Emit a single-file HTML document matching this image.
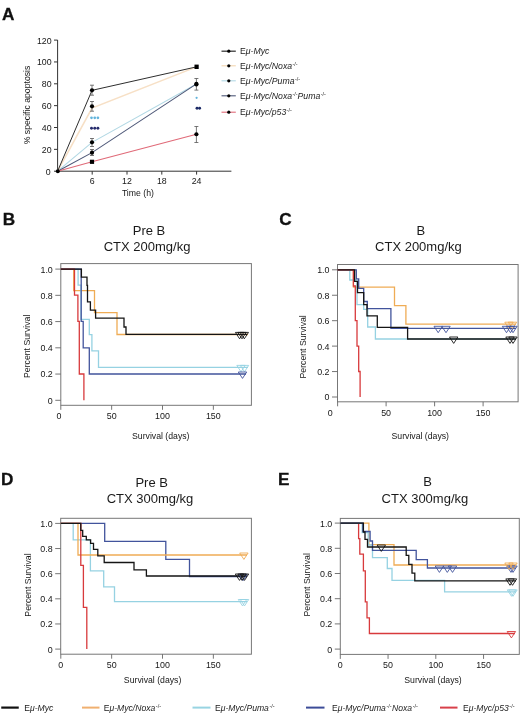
<!DOCTYPE html>
<html><head><meta charset="utf-8"><style>
html,body{margin:0;padding:0;background:#fff;}
body{width:520px;height:713px;overflow:hidden;}
svg{display:block;font-family:"Liberation Sans",sans-serif;filter:blur(0.3px);}
</style></head><body>
<svg width="520" height="713" viewBox="0 0 520 713">
<rect width="520" height="713" fill="#fff"/>
<text x="2.0" y="20.3" font-size="17.2" text-anchor="start" font-weight="bold" font-style="normal" fill="#111" stroke="#111" stroke-width="0.3">A</text>
<text x="2.7" y="225.2" font-size="17.2" text-anchor="start" font-weight="bold" font-style="normal" fill="#111" stroke="#111" stroke-width="0.3">B</text>
<text x="279.2" y="225.4" font-size="17.2" text-anchor="start" font-weight="bold" font-style="normal" fill="#111" stroke="#111" stroke-width="0.3">C</text>
<text x="1.0" y="484.6" font-size="17.2" text-anchor="start" font-weight="bold" font-style="normal" fill="#111" stroke="#111" stroke-width="0.3">D</text>
<text x="278.0" y="484.6" font-size="17.2" text-anchor="start" font-weight="bold" font-style="normal" fill="#111" stroke="#111" stroke-width="0.3">E</text>
<path d="M57.6 40 V171.2 H231.4" fill="none" stroke="#333" stroke-width="1"/>
<path d="M54 171.20 H57.6" stroke="#333" stroke-width="1"/>
<text x="50.6" y="174.6" font-size="8.8" text-anchor="end" font-weight="normal" font-style="normal" fill="#161616">0</text>
<path d="M54 149.35 H57.6" stroke="#333" stroke-width="1"/>
<text x="51.6" y="152.75" font-size="8.8" text-anchor="end" font-weight="normal" font-style="normal" fill="#161616">20</text>
<path d="M54 127.50 H57.6" stroke="#333" stroke-width="1"/>
<text x="51.6" y="130.89999999999998" font-size="8.8" text-anchor="end" font-weight="normal" font-style="normal" fill="#161616">40</text>
<path d="M54 105.65 H57.6" stroke="#333" stroke-width="1"/>
<text x="51.6" y="109.05" font-size="8.8" text-anchor="end" font-weight="normal" font-style="normal" fill="#161616">60</text>
<path d="M54 83.80 H57.6" stroke="#333" stroke-width="1"/>
<text x="51.6" y="87.19999999999999" font-size="8.8" text-anchor="end" font-weight="normal" font-style="normal" fill="#161616">80</text>
<path d="M54 61.95 H57.6" stroke="#333" stroke-width="1"/>
<text x="51.6" y="65.35" font-size="8.8" text-anchor="end" font-weight="normal" font-style="normal" fill="#161616">100</text>
<path d="M54 40.10 H57.6" stroke="#333" stroke-width="1"/>
<text x="51.6" y="43.49999999999999" font-size="8.8" text-anchor="end" font-weight="normal" font-style="normal" fill="#161616">120</text>
<path d="M92.20 171.2 V174.6" stroke="#333" stroke-width="1"/>
<text x="92.19999999999999" y="183.9" font-size="8.8" text-anchor="middle" font-weight="normal" font-style="normal" fill="#161616">6</text>
<path d="M127.00 171.2 V174.6" stroke="#333" stroke-width="1"/>
<text x="127.0" y="183.9" font-size="8.8" text-anchor="middle" font-weight="normal" font-style="normal" fill="#161616">12</text>
<path d="M161.80 171.2 V174.6" stroke="#333" stroke-width="1"/>
<text x="161.79999999999998" y="183.9" font-size="8.8" text-anchor="middle" font-weight="normal" font-style="normal" fill="#161616">18</text>
<path d="M196.60 171.2 V174.6" stroke="#333" stroke-width="1"/>
<text x="196.6" y="183.9" font-size="8.8" text-anchor="middle" font-weight="normal" font-style="normal" fill="#161616">24</text>
<text x="137.9" y="195.5" font-size="8.7" text-anchor="middle" font-weight="normal" font-style="normal" fill="#161616">Time (h)</text>
<text x="30.4" y="105" font-size="8.7" text-anchor="middle" font-weight="normal" font-style="normal" fill="#161616" transform="rotate(-90 30.4 105)">% specific apoptosis</text>
<polyline points="57.6,171.2 92.0,142.36 196.5,83.91" fill="none" stroke="#b2d8e4" stroke-width="1.1"/>
<polyline points="57.6,171.2 92.0,152.63 196.5,83.91" fill="none" stroke="#4e5878" stroke-width="1.1"/>
<polyline points="57.6,171.2 92.0,161.80 196.5,134.27" fill="none" stroke="#e06a78" stroke-width="1.1"/>
<polyline points="57.6,171.2 92.0,108.05 196.5,66.87" fill="none" stroke="#f7e0c6" stroke-width="1.6"/>
<polyline points="57.6,171.2 92.0,90.35 196.5,66.87" fill="none" stroke="#2e2e2e" stroke-width="1.0"/>
<circle cx="57.8" cy="171.2" r="2.0" fill="#000"/>
<path d="M92 85.2 V95.2 M90 85.2 H94 M90 95.2 H94" stroke="#555" stroke-width="0.8" fill="none"/>
<path d="M92 101.5 V111.2 M90 101.5 H94 M90 111.2 H94" stroke="#555" stroke-width="0.8" fill="none"/>
<path d="M92 138.5 V146.5 M90 138.5 H94 M90 146.5 H94" stroke="#555" stroke-width="0.8" fill="none"/>
<path d="M92 149.5 V155.5 M90 149.5 H94 M90 155.5 H94" stroke="#555" stroke-width="0.8" fill="none"/>
<path d="M196.4 78.5 V90.1 M194.4 78.5 H198.4 M194.4 90.1 H198.4" stroke="#555" stroke-width="0.8" fill="none"/>
<path d="M196.4 126.5 V142.5 M194.4 126.5 H198.4 M194.4 142.5 H198.4" stroke="#555" stroke-width="0.8" fill="none"/>
<circle cx="92" cy="90.35" r="2.1" fill="#000"/>
<circle cx="92" cy="106.31" r="2.1" fill="#000"/>
<circle cx="92" cy="142.36" r="2.1" fill="#000"/>
<circle cx="92" cy="152.63" r="2.1" fill="#000"/>
<circle cx="196.4" cy="83.91" r="2.1" fill="#000"/>
<circle cx="196.4" cy="134.27" r="2.1" fill="#000"/>
<rect x="89.9" y="159.70" width="4.2" height="4.2" fill="#000"/>
<rect x="194.5" y="64.6" width="4.2" height="4.4" fill="#000"/>
<circle cx="196.4" cy="84.51" r="2.1" fill="#000"/>
<circle cx="91.5" cy="117.8" r="1.35" fill="#62b4dc"/>
<circle cx="91.5" cy="128.3" r="1.45" fill="#262c6c"/>
<circle cx="94.75" cy="117.8" r="1.35" fill="#62b4dc"/>
<circle cx="94.75" cy="128.3" r="1.45" fill="#262c6c"/>
<circle cx="97.9" cy="117.8" r="1.35" fill="#62b4dc"/>
<circle cx="97.9" cy="128.3" r="1.45" fill="#262c6c"/>
<circle cx="196.6" cy="97.8" r="1.1" fill="#62b4dc"/>
<circle cx="197.0" cy="108.2" r="1.45" fill="#1c2a66"/>
<circle cx="199.6" cy="108.2" r="1.45" fill="#1c2a66"/>
<path d="M221.5 51.2 H235.8" stroke="#3a3a3a" stroke-width="1.3"/>
<circle cx="228.8" cy="51.2" r="1.6" fill="#000"/>
<text x="240" y="54.400000000000006" font-size="8.7" text-anchor="start" font-weight="normal" font-style="normal" fill="#222">E<tspan font-style="italic">μ-Myc</tspan></text>
<path d="M221.5 65.8 H235.8" stroke="#f3d6b0" stroke-width="1.1"/>
<circle cx="228.8" cy="65.8" r="1.6" fill="#000"/>
<text x="240" y="69.0" font-size="8.7" text-anchor="start" font-weight="normal" font-style="normal" fill="#222">E<tspan font-style="italic">μ-Myc/Noxa</tspan><tspan font-size="5.4" dx="0.4" dy="-3.2">-/-</tspan></text>
<path d="M221.5 80.8 H235.8" stroke="#b2d8e4" stroke-width="1.1"/>
<circle cx="228.8" cy="80.8" r="1.6" fill="#000"/>
<text x="240" y="84.0" font-size="8.7" text-anchor="start" font-weight="normal" font-style="normal" fill="#222">E<tspan font-style="italic">μ-Myc/Puma</tspan><tspan font-size="5.4" dx="0.4" dy="-3.2">-/-</tspan></text>
<path d="M221.5 95.8 H235.8" stroke="#4e5878" stroke-width="1.1"/>
<circle cx="228.8" cy="95.8" r="1.6" fill="#000"/>
<text x="240" y="99.0" font-size="8.7" text-anchor="start" font-weight="normal" font-style="normal" fill="#222">E<tspan font-style="italic">μ-Myc/Noxa</tspan><tspan font-size="5.4" dx="0.4" dy="-3.2">-/-</tspan><tspan font-style="italic" dy="3.2">Puma</tspan><tspan font-size="5.4" dx="0.4" dy="-3.2">-/-</tspan></text>
<path d="M221.5 112.2 H235.8" stroke="#e06a78" stroke-width="1.1"/>
<circle cx="228.8" cy="112.2" r="1.6" fill="#000"/>
<text x="240" y="115.4" font-size="8.7" text-anchor="start" font-weight="normal" font-style="normal" fill="#222">E<tspan font-style="italic">μ-Myc/p53</tspan><tspan font-size="5.4" dx="0.4" dy="-3.2">-/-</tspan></text>
<rect x="60.8" y="263.6" width="190.60000000000002" height="141.7" fill="none" stroke="#777" stroke-width="1"/>
<path d="M55.3 400.30 H60.8" stroke="#666" stroke-width="0.9"/>
<text x="52.8" y="403.7" font-size="8.9" text-anchor="end" font-weight="normal" font-style="normal" fill="#161616">0</text>
<path d="M55.3 374.06 H60.8" stroke="#666" stroke-width="0.9"/>
<text x="52.8" y="377.46" font-size="8.9" text-anchor="end" font-weight="normal" font-style="normal" fill="#161616">0.2</text>
<path d="M55.3 347.82 H60.8" stroke="#666" stroke-width="0.9"/>
<text x="52.8" y="351.21999999999997" font-size="8.9" text-anchor="end" font-weight="normal" font-style="normal" fill="#161616">0.4</text>
<path d="M55.3 321.58 H60.8" stroke="#666" stroke-width="0.9"/>
<text x="52.8" y="324.98" font-size="8.9" text-anchor="end" font-weight="normal" font-style="normal" fill="#161616">0.6</text>
<path d="M55.3 295.34 H60.8" stroke="#666" stroke-width="0.9"/>
<text x="52.8" y="298.74" font-size="8.9" text-anchor="end" font-weight="normal" font-style="normal" fill="#161616">0.8</text>
<path d="M55.3 269.10 H60.8" stroke="#666" stroke-width="0.9"/>
<text x="52.8" y="272.5" font-size="8.9" text-anchor="end" font-weight="normal" font-style="normal" fill="#161616">1.0</text>
<path d="M60.80 405.3 V409.8" stroke="#666" stroke-width="0.9"/>
<text x="58.9" y="419.0" font-size="8.9" text-anchor="middle" font-weight="normal" font-style="normal" fill="#161616">0</text>
<path d="M111.65 405.3 V409.8" stroke="#666" stroke-width="0.9"/>
<text x="111.64999999999999" y="419.0" font-size="8.9" text-anchor="middle" font-weight="normal" font-style="normal" fill="#161616">50</text>
<path d="M162.50 405.3 V409.8" stroke="#666" stroke-width="0.9"/>
<text x="162.5" y="419.0" font-size="8.9" text-anchor="middle" font-weight="normal" font-style="normal" fill="#161616">100</text>
<path d="M213.35 405.3 V409.8" stroke="#666" stroke-width="0.9"/>
<text x="213.34999999999997" y="419.0" font-size="8.9" text-anchor="middle" font-weight="normal" font-style="normal" fill="#161616">150</text>
<text x="160.8" y="439.0" font-size="8.7" text-anchor="middle" font-weight="normal" font-style="normal" fill="#161616">Survival (days)</text>
<text x="29.8" y="346.3" font-size="8.7" text-anchor="middle" font-weight="normal" font-style="normal" fill="#161616" transform="rotate(-90 29.8 346.3)">Percent Survival</text>
<text x="149" y="235.2" font-size="13" text-anchor="middle" font-weight="normal" font-style="normal" fill="#1a1a1a">Pre B</text>
<text x="147.1" y="250.8" font-size="13" text-anchor="middle" font-weight="normal" font-style="normal" fill="#1a1a1a">CTX 200mg/kg</text>
<path d="M60.8 269.1 H73.7 V290.7 H94.5 V312.6 H117 V334.5 H248" fill="none" stroke="#efac55" stroke-width="1.3" stroke-linejoin="miter"/>
<path d="M60.8 269.1 H78.1 V285.1 H81 V319.3 H89.3 V334.7 H91.9 V350.9 H98.5 V367.4 H248" fill="none" stroke="#96d2e2" stroke-width="1.3" stroke-linejoin="miter"/>
<path d="M60.8 269.1 H81.2 V321.4 H83.2 V347.8 H89.3 V374 H246" fill="none" stroke="#42549c" stroke-width="1.3" stroke-linejoin="miter"/>
<path d="M60.8 269.1 H74.5 V295.2 H77.9 V321.4 H79.3 V374 H83.9 V400.3" fill="none" stroke="#d83a3c" stroke-width="1.3" stroke-linejoin="miter"/>
<path d="M60.8 269.1 H81.4 V277.2 H87 V285.3 H87.5 V301.8 H90.4 V310.2 H95.6 V318.2 H124 V327 H126 V334.4 H247" fill="none" stroke="#151515" stroke-width="1.3" stroke-linejoin="miter"/>
<path d="M235.40 332.40 H243.80 L239.60 338.80 Z" fill="none" stroke="#151515" stroke-width="0.9"/>
<path d="M237.80 332.40 H246.20 L242.00 338.80 Z" fill="none" stroke="#151515" stroke-width="0.9"/>
<path d="M240.10 332.40 H248.50 L244.30 338.80 Z" fill="none" stroke="#151515" stroke-width="0.9"/>
<path d="M236.80 365.40 H245.20 L241.00 371.80 Z" fill="none" stroke="#96d2e2" stroke-width="0.9"/>
<path d="M240.30 365.40 H248.70 L244.50 371.80 Z" fill="none" stroke="#96d2e2" stroke-width="0.9"/>
<path d="M238.30 372.00 H246.70 L242.50 378.40 Z" fill="none" stroke="#42549c" stroke-width="0.9"/>
<rect x="337.5" y="264.5" width="180.60000000000002" height="137.3" fill="none" stroke="#777" stroke-width="1"/>
<path d="M332.0 397.00 H337.5" stroke="#666" stroke-width="0.9"/>
<text x="329.5" y="400.4" font-size="8.9" text-anchor="end" font-weight="normal" font-style="normal" fill="#161616">0</text>
<path d="M332.0 371.56 H337.5" stroke="#666" stroke-width="0.9"/>
<text x="329.5" y="374.96" font-size="8.9" text-anchor="end" font-weight="normal" font-style="normal" fill="#161616">0.2</text>
<path d="M332.0 346.12 H337.5" stroke="#666" stroke-width="0.9"/>
<text x="329.5" y="349.52" font-size="8.9" text-anchor="end" font-weight="normal" font-style="normal" fill="#161616">0.4</text>
<path d="M332.0 320.68 H337.5" stroke="#666" stroke-width="0.9"/>
<text x="329.5" y="324.08" font-size="8.9" text-anchor="end" font-weight="normal" font-style="normal" fill="#161616">0.6</text>
<path d="M332.0 295.24 H337.5" stroke="#666" stroke-width="0.9"/>
<text x="329.5" y="298.64" font-size="8.9" text-anchor="end" font-weight="normal" font-style="normal" fill="#161616">0.8</text>
<path d="M332.0 269.80 H337.5" stroke="#666" stroke-width="0.9"/>
<text x="329.5" y="273.2" font-size="8.9" text-anchor="end" font-weight="normal" font-style="normal" fill="#161616">1.0</text>
<path d="M337.60 401.8 V406.3" stroke="#666" stroke-width="0.9"/>
<text x="330.1" y="415.5" font-size="8.9" text-anchor="middle" font-weight="normal" font-style="normal" fill="#161616">0</text>
<path d="M386.10 401.8 V406.3" stroke="#666" stroke-width="0.9"/>
<text x="386.1" y="415.5" font-size="8.9" text-anchor="middle" font-weight="normal" font-style="normal" fill="#161616">50</text>
<path d="M434.60 401.8 V406.3" stroke="#666" stroke-width="0.9"/>
<text x="434.6" y="415.5" font-size="8.9" text-anchor="middle" font-weight="normal" font-style="normal" fill="#161616">100</text>
<path d="M483.10 401.8 V406.3" stroke="#666" stroke-width="0.9"/>
<text x="483.1" y="415.5" font-size="8.9" text-anchor="middle" font-weight="normal" font-style="normal" fill="#161616">150</text>
<text x="420.3" y="439.0" font-size="8.7" text-anchor="middle" font-weight="normal" font-style="normal" fill="#161616">Survival (days)</text>
<text x="305.59999999999997" y="346.8" font-size="8.7" text-anchor="middle" font-weight="normal" font-style="normal" fill="#161616" transform="rotate(-90 305.59999999999997 346.8)">Percent Survival</text>
<text x="420.8" y="235.2" font-size="13" text-anchor="middle" font-weight="normal" font-style="normal" fill="#1a1a1a">B</text>
<text x="418.4" y="250.7" font-size="13" text-anchor="middle" font-weight="normal" font-style="normal" fill="#1a1a1a">CTX 200mg/kg</text>
<path d="M337.5 269.8 H353.4 V287.2 H394.5 V305.6 H405.9 V324.2 H516" fill="none" stroke="#efac55" stroke-width="1.3" stroke-linejoin="miter"/>
<path d="M337.5 269.8 H349.8 V280 H357 V304.6 H363.7 V309.4 H367.7 V327 H375.4 V339 H516" fill="none" stroke="#96d2e2" stroke-width="1.3" stroke-linejoin="miter"/>
<path d="M337.5 269.8 H356.3 V278.9 H358.7 V288.4 H363.7 V301.5 H367.3 V308.7 H390.9 V328.3 H516" fill="none" stroke="#42549c" stroke-width="1.3" stroke-linejoin="miter"/>
<path d="M337.5 269.8 H353.4 V286 H355.3 V320.6 H357 V346.2 H358.7 V371.5 H360.1 V397" fill="none" stroke="#d83a3c" stroke-width="1.3" stroke-linejoin="miter"/>
<path d="M337.5 269.8 H354.6 V281.3 H357.5 V292.7 H363.7 V304.6 H367 V315.9 H377.3 V327.3 H407.6 V339 H516" fill="none" stroke="#151515" stroke-width="1.3" stroke-linejoin="miter"/>
<path d="M504.80 322.20 H513.20 L509.00 328.60 Z" fill="none" stroke="#efac55" stroke-width="0.9"/>
<path d="M508.30 322.20 H516.70 L512.50 328.60 Z" fill="none" stroke="#efac55" stroke-width="0.9"/>
<path d="M434.00 326.30 H442.40 L438.20 332.70 Z" fill="none" stroke="#42549c" stroke-width="0.9"/>
<path d="M441.80 326.30 H450.20 L446.00 332.70 Z" fill="none" stroke="#42549c" stroke-width="0.9"/>
<path d="M502.30 326.30 H510.70 L506.50 332.70 Z" fill="none" stroke="#42549c" stroke-width="0.9"/>
<path d="M506.30 326.30 H514.70 L510.50 332.70 Z" fill="none" stroke="#42549c" stroke-width="0.9"/>
<path d="M508.80 326.30 H517.20 L513.00 332.70 Z" fill="none" stroke="#42549c" stroke-width="0.9"/>
<path d="M449.50 337.00 H457.90 L453.70 343.40 Z" fill="none" stroke="#151515" stroke-width="0.9"/>
<path d="M505.80 337.00 H514.20 L510.00 343.40 Z" fill="none" stroke="#151515" stroke-width="0.9"/>
<path d="M508.80 337.00 H517.20 L513.00 343.40 Z" fill="none" stroke="#151515" stroke-width="0.9"/>
<rect x="60.7" y="518.3" width="190.7" height="135.9000000000001" fill="none" stroke="#777" stroke-width="1"/>
<path d="M55.2 649.10 H60.7" stroke="#666" stroke-width="0.9"/>
<text x="52.7" y="652.5" font-size="8.9" text-anchor="end" font-weight="normal" font-style="normal" fill="#161616">0</text>
<path d="M55.2 623.96 H60.7" stroke="#666" stroke-width="0.9"/>
<text x="52.7" y="627.36" font-size="8.9" text-anchor="end" font-weight="normal" font-style="normal" fill="#161616">0.2</text>
<path d="M55.2 598.82 H60.7" stroke="#666" stroke-width="0.9"/>
<text x="52.7" y="602.22" font-size="8.9" text-anchor="end" font-weight="normal" font-style="normal" fill="#161616">0.4</text>
<path d="M55.2 573.68 H60.7" stroke="#666" stroke-width="0.9"/>
<text x="52.7" y="577.08" font-size="8.9" text-anchor="end" font-weight="normal" font-style="normal" fill="#161616">0.6</text>
<path d="M55.2 548.54 H60.7" stroke="#666" stroke-width="0.9"/>
<text x="52.7" y="551.9399999999999" font-size="8.9" text-anchor="end" font-weight="normal" font-style="normal" fill="#161616">0.8</text>
<path d="M55.2 523.40 H60.7" stroke="#666" stroke-width="0.9"/>
<text x="52.7" y="526.8" font-size="8.9" text-anchor="end" font-weight="normal" font-style="normal" fill="#161616">1.0</text>
<path d="M60.80 654.2 V658.7" stroke="#666" stroke-width="0.9"/>
<text x="60.6" y="667.9000000000001" font-size="8.9" text-anchor="middle" font-weight="normal" font-style="normal" fill="#161616">0</text>
<path d="M111.65 654.2 V658.7" stroke="#666" stroke-width="0.9"/>
<text x="111.64999999999999" y="667.9000000000001" font-size="8.9" text-anchor="middle" font-weight="normal" font-style="normal" fill="#161616">50</text>
<path d="M162.50 654.2 V658.7" stroke="#666" stroke-width="0.9"/>
<text x="162.5" y="667.9000000000001" font-size="8.9" text-anchor="middle" font-weight="normal" font-style="normal" fill="#161616">100</text>
<path d="M213.35 654.2 V658.7" stroke="#666" stroke-width="0.9"/>
<text x="213.34999999999997" y="667.9000000000001" font-size="8.9" text-anchor="middle" font-weight="normal" font-style="normal" fill="#161616">150</text>
<text x="152.6" y="682.9000000000001" font-size="8.7" text-anchor="middle" font-weight="normal" font-style="normal" fill="#161616">Survival (days)</text>
<text x="30.8" y="585.0" font-size="8.7" text-anchor="middle" font-weight="normal" font-style="normal" fill="#161616" transform="rotate(-90 30.8 585.0)">Percent Survival</text>
<text x="151.7" y="486.5" font-size="13" text-anchor="middle" font-weight="normal" font-style="normal" fill="#1a1a1a">Pre B</text>
<text x="150.0" y="502.8" font-size="13" text-anchor="middle" font-weight="normal" font-style="normal" fill="#1a1a1a">CTX 300mg/kg</text>
<path d="M60.7 523.4 H104.7 V541.3 H165.8 V559.3 H189.5 V576.5 H246.5" fill="none" stroke="#42549c" stroke-width="1.3" stroke-linejoin="miter"/>
<path d="M60.7 523.4 H73.2 V539.8 H90.4 V570.9 H103.7 V586.8 H114.5 V601.7 H247" fill="none" stroke="#96d2e2" stroke-width="1.3" stroke-linejoin="miter"/>
<path d="M60.7 523.4 H78 V555 H247" fill="none" stroke="#efac55" stroke-width="1.3" stroke-linejoin="miter"/>
<path d="M60.7 523.4 H80.8 V565.4 H83.4 V607.4 H86.8 V649.1" fill="none" stroke="#d83a3c" stroke-width="1.3" stroke-linejoin="miter"/>
<path d="M60.7 523.4 H80.8 V530.3 H82.7 V536.3 H86.3 V539.8 H90.6 V543.4 H93.5 V549.4 H97.8 V555.8 H104.2 V562.5 H134 V569.8 H146.4 V576 H247" fill="none" stroke="#151515" stroke-width="1.3" stroke-linejoin="miter"/>
<path d="M239.70 553.00 H248.10 L243.90 559.40 Z" fill="none" stroke="#efac55" stroke-width="0.9"/>
<path d="M238.80 574.30 H247.20 L243.00 580.70 Z" fill="none" stroke="#42549c" stroke-width="0.9"/>
<path d="M235.30 574.00 H243.70 L239.50 580.40 Z" fill="none" stroke="#151515" stroke-width="0.9"/>
<path d="M237.80 574.00 H246.20 L242.00 580.40 Z" fill="none" stroke="#151515" stroke-width="0.9"/>
<path d="M240.30 574.00 H248.70 L244.50 580.40 Z" fill="none" stroke="#151515" stroke-width="0.9"/>
<path d="M238.30 599.50 H246.70 L242.50 605.90 Z" fill="none" stroke="#96d2e2" stroke-width="0.9"/>
<path d="M240.30 599.50 H248.70 L244.50 605.90 Z" fill="none" stroke="#96d2e2" stroke-width="0.9"/>
<rect x="340.3" y="518.4" width="178.99999999999994" height="136.0" fill="none" stroke="#777" stroke-width="1"/>
<path d="M334.8 649.10 H340.3" stroke="#666" stroke-width="0.9"/>
<text x="332.3" y="652.5" font-size="8.9" text-anchor="end" font-weight="normal" font-style="normal" fill="#161616">0</text>
<path d="M334.8 623.90 H340.3" stroke="#666" stroke-width="0.9"/>
<text x="332.3" y="627.3" font-size="8.9" text-anchor="end" font-weight="normal" font-style="normal" fill="#161616">0.2</text>
<path d="M334.8 598.70 H340.3" stroke="#666" stroke-width="0.9"/>
<text x="332.3" y="602.1" font-size="8.9" text-anchor="end" font-weight="normal" font-style="normal" fill="#161616">0.4</text>
<path d="M334.8 573.50 H340.3" stroke="#666" stroke-width="0.9"/>
<text x="332.3" y="576.9" font-size="8.9" text-anchor="end" font-weight="normal" font-style="normal" fill="#161616">0.6</text>
<path d="M334.8 548.30 H340.3" stroke="#666" stroke-width="0.9"/>
<text x="332.3" y="551.7" font-size="8.9" text-anchor="end" font-weight="normal" font-style="normal" fill="#161616">0.8</text>
<path d="M334.8 523.10 H340.3" stroke="#666" stroke-width="0.9"/>
<text x="332.3" y="526.5" font-size="8.9" text-anchor="end" font-weight="normal" font-style="normal" fill="#161616">1.0</text>
<path d="M340.30 654.4 V658.9" stroke="#666" stroke-width="0.9"/>
<text x="340.2" y="668.1" font-size="8.9" text-anchor="middle" font-weight="normal" font-style="normal" fill="#161616">0</text>
<path d="M388.05 654.4 V658.9" stroke="#666" stroke-width="0.9"/>
<text x="388.05" y="668.1" font-size="8.9" text-anchor="middle" font-weight="normal" font-style="normal" fill="#161616">50</text>
<path d="M435.80 654.4 V658.9" stroke="#666" stroke-width="0.9"/>
<text x="435.8" y="668.1" font-size="8.9" text-anchor="middle" font-weight="normal" font-style="normal" fill="#161616">100</text>
<path d="M483.55 654.4 V658.9" stroke="#666" stroke-width="0.9"/>
<text x="483.55" y="668.1" font-size="8.9" text-anchor="middle" font-weight="normal" font-style="normal" fill="#161616">150</text>
<text x="433.0" y="683.2" font-size="8.7" text-anchor="middle" font-weight="normal" font-style="normal" fill="#161616">Survival (days)</text>
<text x="309.8" y="584.8" font-size="8.7" text-anchor="middle" font-weight="normal" font-style="normal" fill="#161616" transform="rotate(-90 309.8 584.8)">Percent Survival</text>
<text x="427.5" y="486.3" font-size="13" text-anchor="middle" font-weight="normal" font-style="normal" fill="#1a1a1a">B</text>
<text x="424.9" y="502.8" font-size="13" text-anchor="middle" font-weight="normal" font-style="normal" fill="#1a1a1a">CTX 300mg/kg</text>
<path d="M340.3 523.1 H358.6 V538.6 H359.8 V554.2 H363.4 V570.9 H365.3 V601.9 H367 V617.9 H369.4 V633.5 H515" fill="none" stroke="#d83a3c" stroke-width="1.3" stroke-linejoin="miter"/>
<path d="M340.3 523.1 H368.9 V544.6 H394 V565 H516" fill="none" stroke="#efac55" stroke-width="1.3" stroke-linejoin="miter"/>
<path d="M340.3 523.1 H362.2 V532.7 H368.2 V545 H372.5 V557.7 H387.3 V568.5 H392 V580.4 H444.6 V591.9 H516" fill="none" stroke="#96d2e2" stroke-width="1.3" stroke-linejoin="miter"/>
<path d="M340.3 523.1 H362.9 V531.5 H370.1 V541 H372.5 V550.3 H416.2 V559.6 H427.4 V568 H515.7" fill="none" stroke="#42549c" stroke-width="1.3" stroke-linejoin="miter"/>
<path d="M340.3 523.1 H363.4 V532 H365 V539.3 H367.5 V547 H406.2 V555.3 H408.8 V564.4 H412 V573.2 H414.8 V580.9 H516" fill="none" stroke="#151515" stroke-width="1.3" stroke-linejoin="miter"/>
<path d="M377.10 545.00 H385.50 L381.30 551.40 Z" fill="none" stroke="#151515" stroke-width="0.9"/>
<path d="M435.20 566.00 H443.60 L439.40 572.40 Z" fill="none" stroke="#42549c" stroke-width="0.9"/>
<path d="M443.10 566.00 H451.50 L447.30 572.40 Z" fill="none" stroke="#42549c" stroke-width="0.9"/>
<path d="M448.30 566.00 H456.70 L452.50 572.40 Z" fill="none" stroke="#42549c" stroke-width="0.9"/>
<path d="M506.80 566.00 H515.20 L511.00 572.40 Z" fill="none" stroke="#42549c" stroke-width="0.9"/>
<path d="M508.80 566.00 H517.20 L513.00 572.40 Z" fill="none" stroke="#42549c" stroke-width="0.9"/>
<path d="M504.80 563.00 H513.20 L509.00 569.40 Z" fill="none" stroke="#efac55" stroke-width="0.9"/>
<path d="M508.80 563.00 H517.20 L513.00 569.40 Z" fill="none" stroke="#efac55" stroke-width="0.9"/>
<path d="M505.80 578.90 H514.20 L510.00 585.30 Z" fill="none" stroke="#151515" stroke-width="0.9"/>
<path d="M508.30 578.90 H516.70 L512.50 585.30 Z" fill="none" stroke="#151515" stroke-width="0.9"/>
<path d="M507.30 589.90 H515.70 L511.50 596.30 Z" fill="none" stroke="#96d2e2" stroke-width="0.9"/>
<path d="M508.80 589.90 H517.20 L513.00 596.30 Z" fill="none" stroke="#96d2e2" stroke-width="0.9"/>
<path d="M507.20 631.50 H515.60 L511.40 637.90 Z" fill="none" stroke="#d83a3c" stroke-width="0.9"/>
<path d="M1.25 707.6 H18.75" stroke="#111" stroke-width="2.2"/>
<text x="24.3" y="711.0" font-size="8.6" text-anchor="start" font-weight="normal" font-style="normal" fill="#222">E<tspan font-style="italic">μ-Myc</tspan></text>
<path d="M82.0 707.6 H99.5" stroke="#f0b070" stroke-width="2.0"/>
<text x="103.8" y="711.0" font-size="8.6" text-anchor="start" font-weight="normal" font-style="normal" fill="#222">E<tspan font-style="italic">μ-Myc/Noxa</tspan><tspan font-size="5.6" dx="0.5" dy="-3.0">-/-</tspan></text>
<path d="M192.5 707.6 H210.5" stroke="#98d4e2" stroke-width="2.0"/>
<text x="215.0" y="711.0" font-size="8.6" text-anchor="start" font-weight="normal" font-style="normal" fill="#222">E<tspan font-style="italic">μ-Myc/Puma</tspan><tspan font-size="5.6" dx="0.5" dy="-3.0">-/-</tspan></text>
<path d="M306.0 707.6 H324.5" stroke="#3c4c98" stroke-width="2.0"/>
<text x="332.0" y="711.0" font-size="8.6" text-anchor="start" font-weight="normal" font-style="normal" fill="#222">E<tspan font-style="italic">μ-Myc/Puma</tspan><tspan font-size="5.6" dx="0.5" dy="-3.0">-/-</tspan><tspan font-style="italic" dx="0.4" dy="3.0">Noxa</tspan><tspan font-size="5.6" dx="0.5" dy="-3.0">-/-</tspan></text>
<path d="M440.0 707.6 H457.5" stroke="#d8404a" stroke-width="2.0"/>
<text x="463.0" y="711.0" font-size="8.6" text-anchor="start" font-weight="normal" font-style="normal" fill="#222">E<tspan font-style="italic">μ-Myc/p53</tspan><tspan font-size="5.6" dx="0.5" dy="-3.0">-/-</tspan></text>
</svg>
</body></html>
